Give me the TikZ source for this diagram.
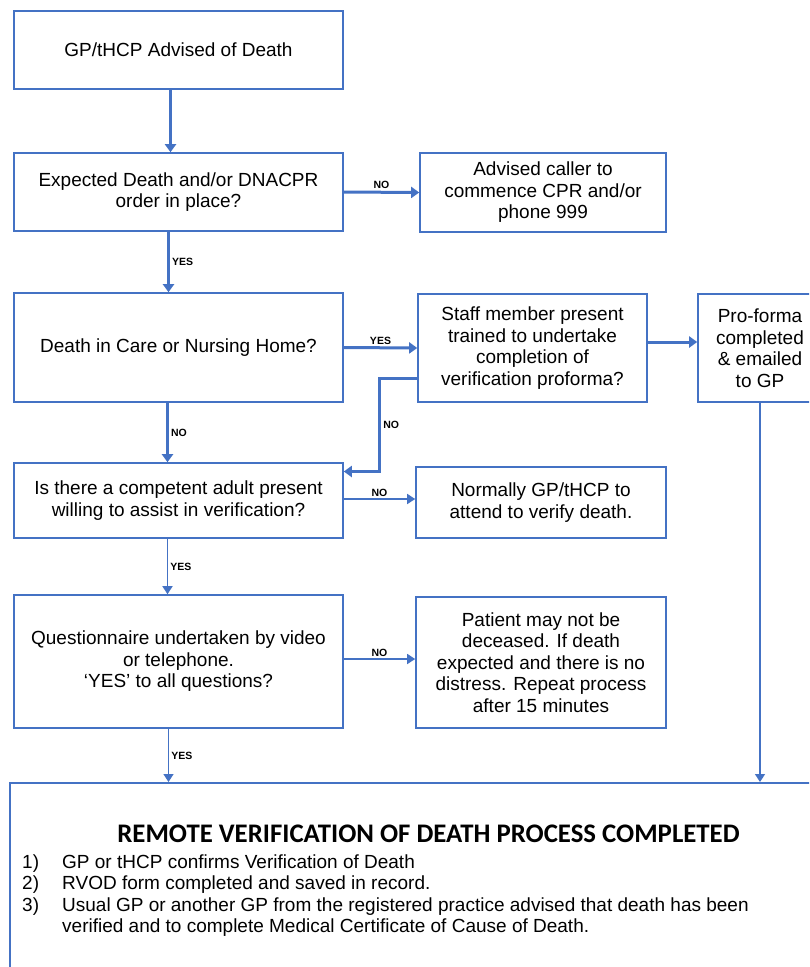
\documentclass[tikz,border=0pt]{standalone}
\usepackage{fontspec}
\setmainfont{Liberation Sans}
\newfontfamily\headfont{Carlito}
\usetikzlibrary{arrows.meta}
\definecolor{flowblue}{HTML}{4472C4}

\tikzset{
  box/.style={draw=flowblue, line width=1.6pt, align=center, inner sep=0pt,
    font=\fontsize{19}{21.5}\selectfont},
  thickflow/.style={draw=flowblue, line width=3pt, -{Triangle[length=8pt,width=11pt]}},
  thinflow/.style={draw=flowblue, line width=1.5pt, -{Triangle[length=8pt,width=10pt]}},
  answer/.style={font=\fontsize{10.5}{12}\selectfont\bfseries, inner sep=2pt},
}

\begin{document}
\begin{tikzpicture}[x=1pt, y=-1pt]

\useasboundingbox (0,0) rectangle (809,967);
\clip (0,0) rectangle (809,967);

% left column of questions
\node[box, minimum width=329pt, minimum height=78pt] (gp) at (178.5,50) {GP/tHCP Advised of Death};
\node[box, minimum width=329pt, minimum height=78pt] (expected) at (178.5,192) {Expected Death and/or DNACPR\\order in place?};
\node[box, minimum width=329pt, minimum height=109pt] (carehome) at (178.5,347.5) {Death in Care or Nursing Home?};
\node[box, minimum width=329pt, minimum height=75pt] (adult) at (178.5,500.5) {Is there a competent adult present\\willing to assist in verification?};
\node[box, minimum width=329pt, minimum height=133pt] (quest) at (178.5,661.5) {Questionnaire undertaken by video\\or telephone.\\‘YES’ to all questions?};

% outcomes on the right
\node[box, minimum width=246pt, minimum height=79pt] (cpr) at (543,192.5) {Advised caller to\\commence CPR and/or\\phone 999};
\node[box, minimum width=229pt, minimum height=108pt] (staff) at (532.5,348) {Staff member present\\trained to undertake\\completion of\\verification proforma?};
\node[box, minimum width=124pt, minimum height=108pt] (proforma) at (760,348) {Pro-forma\\completed\\\& emailed\\to GP};
\node[box, minimum width=250pt, minimum height=71pt] (normally) at (541,502.5) {Normally GP/tHCP to\\attend to verify death.};
\node[box, minimum width=250pt, minimum height=131pt] (patient) at (541,662.5) {Patient may not be\\deceased. If death\\expected and there is no\\distress. Repeat process\\after 15 minutes};

% final box
\node[box, anchor=north west, minimum width=860pt, minimum height=240pt] (done) at (9,782) {};
\node[anchor=base, inner sep=0pt, font=\headfont\bfseries\fontsize{26.8}{30}\selectfont] (title) at (428.5,842)
  {REMOTE VERIFICATION OF DEATH PROCESS COMPLETED};
\node[anchor=base west, inner sep=0pt, font=\fontsize{19}{21.5}\selectfont] (steps) at (22,868) {%
  \begin{tabular}[t]{@{}p{40pt}@{}l@{}}
  1) & GP or tHCP confirms Verification of Death\\
  2) & RVOD form completed and saved in record.\\
  3) & Usual GP or another GP from the registered practice advised that death has been\\
     & verified and to complete Medical Certificate of Cause of Death.
  \end{tabular}};

% connectors
\draw[thickflow] ([xshift=-8pt]gp.south) -- ([xshift=-8pt]expected.north);
\draw[thickflow] (expected.east) -- node[answer, above] {NO} (cpr.west);
\draw[thickflow] ([xshift=-10pt]expected.south) -- node[answer, right] {YES} ([xshift=-10pt]carehome.north);
\draw[thickflow] (carehome.east) -- node[answer, above] {YES} (staff.west);
\draw[thickflow] ([yshift=6pt]staff.east) -- ([yshift=6pt]proforma.west);
\draw[thickflow] ([yshift=-30pt]staff.west) -| node[answer, right, pos=0.75] {NO}
  ([xshift=36pt,yshift=29pt]adult.east) -- ([yshift=29pt]adult.east);
\draw[thickflow] ([xshift=-11pt]carehome.south) -- node[answer, right] {NO} ([xshift=-11pt]adult.north);
\draw[thinflow] ([yshift=1.5pt]adult.east) -- node[answer, above] {NO} ([yshift=1.5pt]adult.east -| normally.west);
\draw[thinflow] ([xshift=-11pt]adult.south) -- node[answer, right] {YES} ([xshift=-11pt]quest.north);
\draw[thinflow] ([yshift=2.5pt]quest.east) -- node[answer, above] {NO} ([yshift=2.5pt]quest.east -| patient.west);
\draw[thinflow] ([xshift=-10pt]quest.south) -- node[answer, right] {YES} ([xshift=-10pt]quest.south |- done.north);
\draw[thinflow] (proforma.south) -- (proforma.south |- done.north);

\end{tikzpicture}
\end{document}
